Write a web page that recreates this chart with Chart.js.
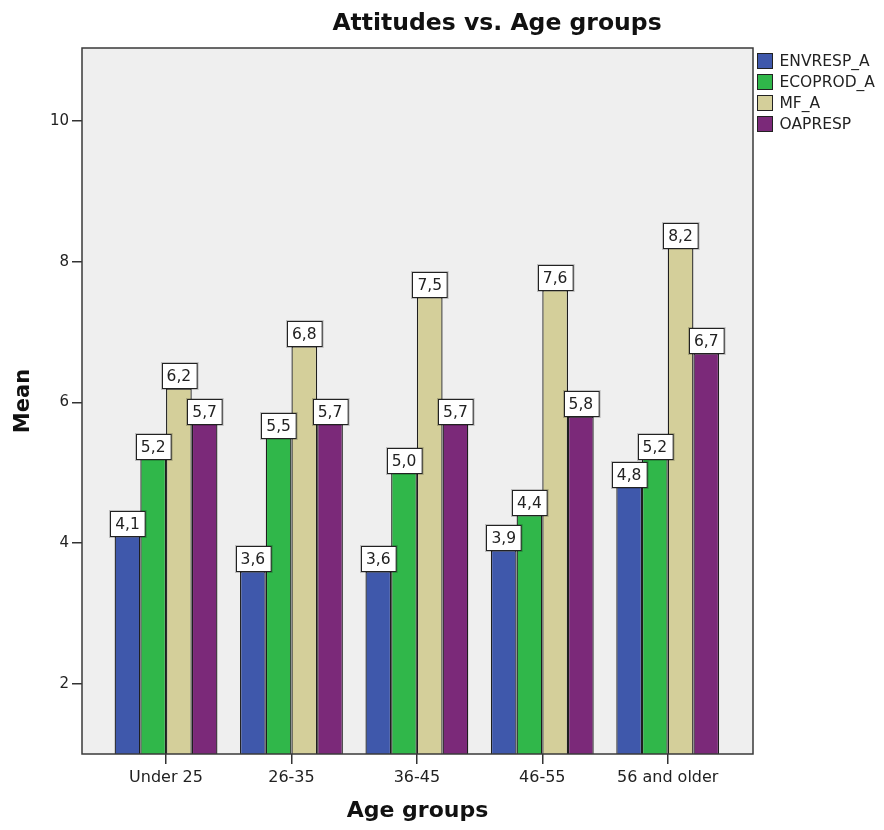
<!DOCTYPE html>
<html>
<head>
<meta charset="utf-8">
<script src="https://cdn.jsdelivr.net/npm/chart.js@4/dist/chart.umd.min.js"></script>
<style>
  html, body { margin: 0; padding: 0; background: #ffffff; }
  #wrap { width: 884px; height: 830px; }
</style>
</head>
<body>
<div id="wrap"><canvas id="c" width="884" height="830"></canvas></div>
<script>
// Mean attitude scores per age group
const categories = ['Under 25', '26-35', '36-45', '46-55', '56 and older'];
const envrespA = [4.1, 3.6, 3.6, 3.9, 4.8];
const ecoprodA = [5.2, 5.5, 5.0, 4.4, 5.2];
const mfA      = [6.2, 6.8, 7.5, 7.6, 8.2];
const oapresp  = [5.7, 5.7, 5.7, 5.8, 6.7];
const seriesNames = ['ENVRESP_A', 'ECOPROD_A', 'MF_A', 'OAPRESP'];
const yTicks = [2, 4, 6, 8, 10];

const seriesValues = [envrespA, ecoprodA, mfA, oapresp];
const seriesColors = ['#3f58ab', '#30b74a', '#d4cf9a', '#7b2979'];
const FONT = '"DejaVu Sans", sans-serif';

const toPoints = vals => vals.map((v, i) => ({ x: i, y: v }));
const fmt = v => v.toFixed(1).replace('.', ',');

// grey plotting panel and its frame
const panelPlugin = {
  id: 'panel',
  beforeDatasetsDraw(chart) {
    const { ctx, chartArea: a } = chart;
    ctx.save();
    ctx.fillStyle = '#efefef';
    ctx.fillRect(a.left, a.top, a.right - a.left, a.bottom - a.top);
    ctx.restore();
  },
  afterDatasetsDraw(chart) {
    const { ctx, chartArea: a } = chart;
    ctx.save();
    ctx.strokeStyle = '#3a3a3a';
    ctx.lineWidth = 1.5;
    ctx.strokeRect(a.left, a.top, a.right - a.left, a.bottom - a.top);
    ctx.restore();
  }
};

// boxed value labels above each bar
const valueLabelPlugin = {
  id: 'valueLabels',
  afterDatasetsDraw(chart) {
    const { ctx } = chart;
    ctx.save();
    ctx.font = '15.5px ' + FONT;
    ctx.textAlign = 'center';
    ctx.textBaseline = 'middle';
    chart.data.datasets.forEach((ds, di) => {
      const meta = chart.getDatasetMeta(di);
      meta.data.forEach((el, i) => {
        const txt = fmt(ds.data[i].y);
        const w = ctx.measureText(txt).width + 10;
        const h = 25;
        const x = Math.round(el.x - w / 2) + 0.5;
        const y = Math.round(el.y - h) + 0.5;
        ctx.fillStyle = 'rgba(0,0,0,0.2)';
        ctx.fillRect(x - 1.5, y - 1.5, w + 3, h + 3);
        ctx.fillStyle = '#ffffff';
        ctx.fillRect(x, y, w, h);
        ctx.strokeStyle = '#222222';
        ctx.lineWidth = 1;
        ctx.strokeRect(x, y, w, h);
        ctx.fillStyle = '#222222';
        ctx.fillText(txt, el.x, y + h / 2 + 1);
      });
    });
    ctx.restore();
  }
};

// legend swatches at the right of the panel
const legendPlugin = {
  id: 'sideLegend',
  afterDraw(chart) {
    const { ctx, chartArea: a } = chart;
    ctx.save();
    ctx.font = '15.5px ' + FONT;
    ctx.textAlign = 'left';
    ctx.textBaseline = 'middle';
    chart.data.datasets.forEach((ds, i) => {
      const bx = a.right + 4.5, by = 53.5 + i * 21;
      ctx.fillStyle = ds.backgroundColor;
      ctx.fillRect(bx, by, 15, 15);
      ctx.strokeStyle = '#222222';
      ctx.lineWidth = 1;
      ctx.strokeRect(bx, by, 15, 15);
      ctx.fillStyle = '#222222';
      ctx.fillText(ds.label, bx + 22, by + 8);
    });
    ctx.restore();
  }
};

// chart heading
const headingPlugin = {
  id: 'heading',
  afterDraw(chart) {
    const { ctx } = chart;
    ctx.save();
    ctx.font = 'bold 23.5px ' + FONT;
    ctx.fillStyle = '#111111';
    ctx.textAlign = 'center';
    ctx.textBaseline = 'alphabetic';
    ctx.fillText('Attitudes vs. Age groups', 497, 30);
    ctx.restore();
  }
};

new Chart(document.getElementById('c'), {
  type: 'bar',
  data: {
    datasets: seriesNames.map((name, i) => ({
      label: name,
      data: toPoints(seriesValues[i]),
      backgroundColor: seriesColors[i],
      borderColor: '#1e1e1e',
      borderWidth: 1.3,
      borderSkipped: 'bottom',
      barPercentage: 1,
      categoryPercentage: 0.82
    }))
  },
  options: {
    responsive: false,
    animation: false,
    devicePixelRatio: 1,
    layout: { padding: { left: 0, top: 48, right: 131, bottom: 0 } },
    plugins: { legend: { display: false }, tooltip: { enabled: false }, title: { display: false } },
    scales: {
      x: {
        type: 'linear',
        offset: false,
        min: -0.67,
        max: 4.68,
        afterBuildTicks: s => { s.ticks = categories.map((_, i) => ({ value: i })); },
        afterFit: s => { s.height = 76; },
        ticks: {
          callback: v => categories[v],
          font: { family: FONT, size: 16 },
          color: '#222222',
          padding: 4,
          maxRotation: 0,
          autoSkip: false
        },
        grid: { offset: false, drawOnChartArea: false, drawTicks: true, tickLength: 10, color: '#333333', lineWidth: 1.5 },
        border: { display: false },
        title: {
          display: true,
          text: 'Age groups',
          font: { family: FONT, size: 22, weight: 'bold' },
          color: '#111111',
          padding: { top: 0, bottom: 6 }
        }
      },
      y: {
        min: 1,
        max: 11.04,
        afterBuildTicks: s => { s.ticks = yTicks.map(v => ({ value: v })); },
        afterFit: s => { s.width = 82; },
        ticks: {
          font: { family: FONT, size: 15 },
          color: '#222222',
          padding: 3
        },
        grid: { drawOnChartArea: false, drawTicks: true, tickLength: 10, color: '#333333', lineWidth: 1.5 },
        border: { display: false },
        title: {
          display: true,
          text: 'Mean',
          font: { family: FONT, size: 21, weight: 'bold' },
          color: '#111111',
          padding: { top: 11, bottom: 0 }
        }
      }
    }
  },
  plugins: [panelPlugin, valueLabelPlugin, legendPlugin, headingPlugin]
});
</script>
</body>
</html>
